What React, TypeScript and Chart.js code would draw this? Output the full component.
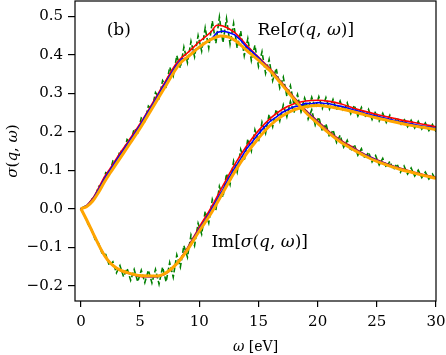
import { useEffect, useRef } from 'react';
import { Chart, registerables } from 'chart.js';
Chart.register(...registerables);

const FONT = '"DejaVu Serif", "Liberation Serif", serif';

const X_TICKS = [0, 5, 10, 15, 20, 25, 30];
const Y_TICKS = [-0.2, -0.1, 0, 0.1, 0.2, 0.3, 0.4, 0.5];

// noisy (green dashed)
const GREEN_X = [
  0, 0.3, 0.6, 0.9, 1.2, 1.5, 1.8, 2.1, 2.4, 2.7,
  3, 3.3, 3.6, 3.9, 4.2, 4.5, 4.8, 5.1, 5.4, 5.7,
  6, 6.3, 6.6, 6.9, 7.2, 7.5, 7.8, 8.1, 8.4, 8.7,
  9, 9.3, 9.6, 9.9, 10.2, 10.5, 10.8, 11.1, 11.4, 11.7,
  12, 12.3, 12.6, 12.9, 13.2, 13.5, 13.8, 14.1, 14.4, 14.7,
  15, 15.3, 15.6, 15.9, 16.2, 16.5, 16.8, 17.1, 17.4, 17.7,
  18, 18.3, 18.6, 18.9, 19.2, 19.5, 19.8, 20.1, 20.4, 20.7,
  21, 21.3, 21.6, 21.9, 22.2, 22.5, 22.8, 23.1, 23.4, 23.7,
  24, 24.3, 24.6, 24.9, 25.2, 25.5, 25.8, 26.1, 26.4, 26.7,
  27, 27.3, 27.6, 27.9, 28.2, 28.5, 28.8, 29.1, 29.4, 29.7,
  30,
];
const GREEN_RE = [
  0, 0.006, 0.008, 0.024, 0.031, 0.058, 0.062, 0.094, 0.09, 0.124,
  0.118, 0.151, 0.145, 0.18, 0.172, 0.208, 0.198, 0.236, 0.228, 0.267,
  0.258, 0.302, 0.288, 0.333, 0.318, 0.368, 0.345, 0.398, 0.366, 0.42,
  0.38, 0.435, 0.395, 0.45, 0.41, 0.47, 0.418, 0.488, 0.43, 0.498,
  0.432, 0.494, 0.428, 0.482, 0.418, 0.462, 0.398, 0.442, 0.385, 0.425,
  0.37, 0.408, 0.352, 0.388, 0.333, 0.365, 0.314, 0.342, 0.292, 0.32,
  0.27, 0.297, 0.252, 0.276, 0.233, 0.257, 0.217, 0.238, 0.201, 0.221,
  0.186, 0.205, 0.172, 0.191, 0.16, 0.178, 0.15, 0.167, 0.139, 0.156,
  0.13, 0.147, 0.122, 0.138, 0.114, 0.131, 0.107, 0.123, 0.101, 0.117,
  0.095, 0.111, 0.09, 0.106, 0.085, 0.1, 0.081, 0.095, 0.077, 0.09,
  0.074,
];
const GREEN_IM = [
  0, -0.017, -0.04, -0.054, -0.08, -0.09, -0.118, -0.119, -0.148, -0.138,
  -0.167, -0.148, -0.177, -0.155, -0.186, -0.158, -0.19, -0.16, -0.192, -0.16,
  -0.193, -0.158, -0.196, -0.152, -0.19, -0.14, -0.178, -0.12, -0.152, -0.096,
  -0.126, -0.068, -0.096, -0.038, -0.066, -0.007, -0.037, 0.024, -0.004, 0.058,
  0.03, 0.091, 0.063, 0.124, 0.095, 0.154, 0.124, 0.181, 0.15, 0.205,
  0.174, 0.225, 0.196, 0.245, 0.213, 0.258, 0.228, 0.27, 0.239, 0.279,
  0.249, 0.285, 0.255, 0.288, 0.26, 0.29, 0.262, 0.291, 0.261, 0.289,
  0.259, 0.284, 0.257, 0.28, 0.252, 0.275, 0.247, 0.269, 0.241, 0.263,
  0.237, 0.258, 0.232, 0.253, 0.228, 0.248, 0.224, 0.243, 0.221, 0.238,
  0.217, 0.234, 0.213, 0.23, 0.21, 0.227, 0.207, 0.223, 0.203, 0.219,
  0.2,
];

// blue
const BLUE_X = [
  0, 0.5, 1, 1.5, 2, 2.5, 3, 3.5, 4, 4.5,
  5, 5.5, 6, 6.5, 7, 7.5, 8, 8.5, 9, 9.5,
  10, 10.5, 11, 11.5, 12, 12.5, 13, 13.5, 14, 14.5,
  15, 15.5, 16, 16.5, 17, 17.5, 18, 18.5, 19, 19.5,
  20, 20.5, 21, 21.5, 22, 22.5, 23, 23.5, 24, 24.5,
  25, 25.5, 26, 26.5, 27, 27.5, 28, 28.5, 29, 29.5,
  30,
];
const BLUE_RE = [
  0, 0.008, 0.024, 0.05, 0.079, 0.102, 0.126, 0.148, 0.171, 0.194,
  0.217, 0.243, 0.268, 0.294, 0.32, 0.345, 0.37, 0.389, 0.392, 0.41,
  0.418, 0.432, 0.44, 0.458, 0.462, 0.458, 0.452, 0.438, 0.42, 0.407,
  0.392, 0.376, 0.36, 0.344, 0.325, 0.306, 0.288, 0.27, 0.254, 0.24,
  0.226, 0.212, 0.198, 0.186, 0.175, 0.165, 0.157, 0.148, 0.14, 0.133,
  0.126, 0.12, 0.114, 0.109, 0.104, 0.099, 0.095, 0.091, 0.087, 0.083,
  0.08,
];
const BLUE_IM = [
  0, -0.03, -0.062, -0.094, -0.122, -0.142, -0.155, -0.163, -0.168, -0.172,
  -0.175, -0.176, -0.177, -0.176, -0.172, -0.162, -0.146, -0.128, -0.104, -0.078,
  -0.052, -0.03, -0.004, 0.024, 0.05, 0.08, 0.106, 0.13, 0.156, 0.175,
  0.195, 0.212, 0.228, 0.238, 0.25, 0.258, 0.265, 0.268, 0.274, 0.273,
  0.276, 0.274, 0.273, 0.269, 0.266, 0.262, 0.257, 0.253, 0.248, 0.244,
  0.24, 0.237, 0.233, 0.229, 0.226, 0.223, 0.22, 0.217, 0.214, 0.212,
  0.209,
];

// red
const RED_RE_X = [0, 0.5, 1, 1.5, 2, 2.5, 3, 4, 5, 6, 7, 8, 8.4, 9, 10, 11, 11.5, 12, 13, 14, 15, 16, 17, 18, 19, 20, 21, 22, 23, 24, 25, 26, 27, 28, 29, 30];
const RED_RE = [0, 0.009, 0.027, 0.054, 0.083, 0.106, 0.13, 0.175, 0.221, 0.272, 0.324, 0.375, 0.39, 0.405, 0.434, 0.46, 0.477, 0.475, 0.458, 0.425, 0.394, 0.363, 0.327, 0.29, 0.256, 0.228, 0.2, 0.177, 0.159, 0.141, 0.127, 0.115, 0.105, 0.096, 0.088, 0.081];

// orange
const ORANGE_RE_X = [0, 0.5, 1, 1.5, 2, 2.5, 3, 4, 5, 6, 7, 8, 8.4, 9, 10, 11, 11.8, 12.5, 13, 14, 15, 16, 17, 18, 19, 20, 21, 22, 23, 24, 25, 26, 27, 28, 29, 30];
const ORANGE_RE = [0, 0.006, 0.02, 0.043, 0.07, 0.094, 0.117, 0.163, 0.209, 0.26, 0.311, 0.362, 0.379, 0.394, 0.42, 0.44, 0.449, 0.446, 0.438, 0.412, 0.386, 0.358, 0.322, 0.285, 0.25, 0.222, 0.195, 0.172, 0.154, 0.137, 0.123, 0.112, 0.102, 0.094, 0.086, 0.079];

// Im (red & orange)
const IM_X = [0, 0.5, 1, 1.5, 2, 2.5, 3, 3.5, 4, 5, 6, 6.5, 7, 7.5, 8, 8.3, 9, 10, 11, 12, 13, 14, 15, 16, 17, 18, 19, 20, 21, 22, 23, 24, 25, 26, 27, 28, 29, 30];
const ORANGE_IM = [0, -0.03, -0.062, -0.094, -0.122, -0.142, -0.154, -0.162, -0.167, -0.174, -0.175, -0.175, -0.17, -0.16, -0.146, -0.136, -0.107, -0.058, -0.012, 0.042, 0.096, 0.143, 0.183, 0.217, 0.241, 0.257, 0.265, 0.268, 0.265, 0.259, 0.252, 0.244, 0.236, 0.229, 0.222, 0.216, 0.211, 0.206];
const RED_IM = [0, -0.03, -0.062, -0.094, -0.122, -0.142, -0.154, -0.163, -0.168, -0.176, -0.177, -0.176, -0.171, -0.161, -0.145, -0.134, -0.102, -0.048, 0.003, 0.06, 0.115, 0.163, 0.203, 0.235, 0.258, 0.273, 0.28, 0.282, 0.279, 0.272, 0.262, 0.253, 0.245, 0.238, 0.231, 0.225, 0.219, 0.213];

// annotation anchors (data coords)
const LABEL_B = { x: 3.2, y: 0.462 };
const LABEL_RE = { x: 19.0, y: 0.464 };
const LABEL_IM = { x: 15.1, y: -0.089 };

type Seg = [string, boolean];

function pts(xs: number[], ys: number[]) {
  return xs.map((x, i) => ({ x, y: ys[i] }));
}

function drawMixed(ctx: CanvasRenderingContext2D, segs: Seg[], cx: number, cy: number, size: number) {
  const fontOf = (it: boolean) => `${it ? 'italic ' : ''}${size}px ${FONT}`;
  let total = 0;
  const widths = segs.map(([t, it]) => {
    ctx.font = fontOf(it);
    const w = ctx.measureText(t).width;
    total += w;
    return w;
  });
  let x = cx - total / 2;
  ctx.textBaseline = 'middle';
  ctx.textAlign = 'left';
  ctx.fillStyle = '#000';
  segs.forEach(([t, it], i) => {
    ctx.font = fontOf(it);
    ctx.fillText(t, x, cy);
    x += widths[i];
  });
}

const annotPlugin = {
  id: 'annot',
  afterDatasetsDraw(chart: any) {
    const { ctx, chartArea } = chart;
    ctx.save();
    ctx.strokeStyle = '#000';
    ctx.lineWidth = 1.2;
    ctx.strokeRect(chartArea.left, chartArea.top, chartArea.right - chartArea.left, chartArea.bottom - chartArea.top);
    ctx.restore();
  },
  afterDraw(chart: any) {
    const { ctx, chartArea, scales } = chart;
    const xs = scales.x, ys = scales.y;
    ctx.save();
    drawMixed(ctx, [['(b)', false]], xs.getPixelForValue(LABEL_B.x), ys.getPixelForValue(LABEL_B.y), 17);
    drawMixed(ctx, [['Re[', false], ['σ', true], ['(', false], ['q', true], [', ', false], ['ω', true], [')]', false]],
      xs.getPixelForValue(LABEL_RE.x), ys.getPixelForValue(LABEL_RE.y), 17);
    drawMixed(ctx, [['Im[', false], ['σ', true], ['(', false], ['q', true], [', ', false], ['ω', true], [')]', false]],
      xs.getPixelForValue(LABEL_IM.x), ys.getPixelForValue(LABEL_IM.y), 17);
    // x title
    drawMixed(ctx, [['ω', true], [' [eV]', false]], (chartArea.left + chartArea.right) / 2, 347, 14);
    // y title
    ctx.translate(13, (chartArea.top + chartArea.bottom) / 2);
    ctx.rotate(-Math.PI / 2);
    drawMixed(ctx, [['σ', true], ['(', false], ['q', true], [', ', false], ['ω', true], [')', false]], 0, 0, 15);
    ctx.restore();
  },
};

function fmt(v: number) {
  const a = Math.abs(v).toFixed(1);
  return v < -1e-9 ? '\u2212' + a : a;
}

export default function App() {
  const ref = useRef<HTMLCanvasElement | null>(null);
  useEffect(() => {
    document.body.style.margin = '0';
    if (!ref.current) return;
    const common = { pointRadius: 0, pointHoverRadius: 0, fill: false, showLine: true };
    const chart = new Chart(ref.current, {
      type: 'scatter',
      data: {
        datasets: [
          { ...common, data: pts(GREEN_X, GREEN_RE), borderColor: '#008000', borderWidth: 1.6, borderDash: [5, 2.5], tension: 0, order: 3 },
          { ...common, data: pts(GREEN_X, GREEN_IM), borderColor: '#008000', borderWidth: 1.6, borderDash: [5, 2.5], tension: 0, order: 3 },
          { ...common, data: pts(RED_RE_X, RED_RE), borderColor: '#ff0000', borderWidth: 1.6, cubicInterpolationMode: 'monotone', order: 2 },
          { ...common, data: pts(IM_X, RED_IM), borderColor: '#ff0000', borderWidth: 1.6, cubicInterpolationMode: 'monotone', order: 2 },
          { ...common, data: pts(BLUE_X, BLUE_RE), borderColor: '#0000ff', borderWidth: 1.6, tension: 0, order: 1 },
          { ...common, data: pts(BLUE_X, BLUE_IM), borderColor: '#0000ff', borderWidth: 1.6, tension: 0, order: 1 },
          { ...common, data: pts(ORANGE_RE_X, ORANGE_RE), borderColor: '#ffa500', borderWidth: 3, cubicInterpolationMode: 'monotone', order: 0 },
          { ...common, data: pts(IM_X, ORANGE_IM), borderColor: '#ffa500', borderWidth: 3, cubicInterpolationMode: 'monotone', order: 0 },
        ] as any,
      },
      options: {
        animation: false,
        responsive: false,
        devicePixelRatio: 1,
        layout: { padding: { top: 1, right: 10, left: 0, bottom: 0 } },
        plugins: { legend: { display: false }, tooltip: { enabled: false } },
        events: [],
        scales: {
          x: {
            type: 'linear',
            min: -0.5,
            max: 30,
            afterBuildTicks: (s: any) => { s.ticks = X_TICKS.map((v) => ({ value: v })); },
            afterFit: (s: any) => { s.height = 54; s.paddingLeft = 0; s.paddingRight = 0; s.paddingTop = 0; s.paddingBottom = 0; },
            ticks: { font: { family: FONT, size: 15 }, color: '#000', padding: 6, maxRotation: 0, autoSkip: false, callback: (v: any) => String(v) },
            grid: { drawOnChartArea: false, drawTicks: true, tickLength: 6, color: '#000', lineWidth: 1.2 },
            border: { display: false },
          },
          y: {
            type: 'linear',
            min: -0.24,
            max: 0.54,
            afterBuildTicks: (s: any) => { s.ticks = Y_TICKS.map((v) => ({ value: v })); },
            afterFit: (s: any) => { s.width = 75; s.paddingLeft = 0; s.paddingRight = 0; s.paddingTop = 0; s.paddingBottom = 0; },
            ticks: { font: { family: FONT, size: 15 }, color: '#000', padding: 5, autoSkip: false, callback: (v: any) => fmt(Number(v)) },
            grid: { drawOnChartArea: false, drawTicks: true, tickLength: 7, color: '#000', lineWidth: 1.2 },
            border: { display: false },
          },
        },
      } as any,
      plugins: [annotPlugin],
    });
    return () => chart.destroy();
  }, []);
  return (
    <div style={{ width: 446, height: 355 }}>
      <canvas ref={ref} width={446} height={355} style={{ display: 'block', width: 446, height: 355 }} />
    </div>
  );
}
